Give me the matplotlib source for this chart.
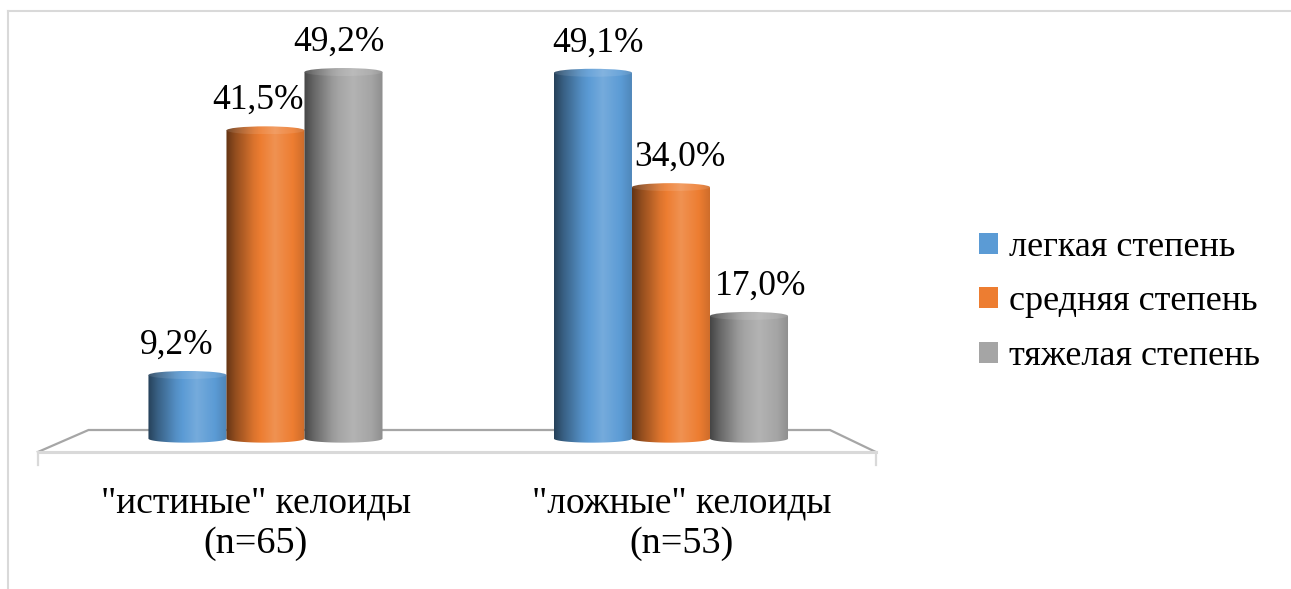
import numpy as np
import matplotlib
matplotlib.use("Agg")
import matplotlib.pyplot as plt
from matplotlib.patches import Polygon, Ellipse, Patch
from matplotlib.lines import Line2D
from matplotlib.colors import to_rgb

plt.rcParams["font.family"] = ["Liberation Serif", "DejaVu Serif"]

# data
categories = [('"истиные" келоиды', "(n=65)"), ('"ложные" келоиды', "(n=53)")]
series_names = ["легкая степень", "средняя степень", "тяжелая степень"]
series_colors = ["#5B9BD5", "#ED7D31", "#A5A5A5"]
values = [
    [9.2, 49.1],   # легкая
    [41.5, 34.0],  # средняя
    [49.2, 17.0],  # тяжелая
]
value_labels = [
    ["9,2%", "49,1%"],
    ["41,5%", "34,0%"],
    ["49,2%", "17,0%"],
]

# layout (data units: x = group index, y = percent)
BAR_W = 0.1924
RY = 0.53          # vertical radius of cylinder ellipses
BASE_Y = 0.8       # centre of the bottom ellipse
FLOOR_BACK_Y, FLOOR_FRONT_Y, FLOOR_TICK_Y = 1.94, -0.96, -2.68
FLOOR_BACK_X = (-0.4365, 1.392)
FLOOR_FRONT_X = (-0.5611, 1.505)
PERSP = 1.04


def shade(color, t):
    # brightness profile across a cylinder, t from 0 (left) to 1 (right)
    stops_t = [0.0, 0.12, 0.35, 0.62, 0.85, 1.0]
    stops_f = [0.42, 0.62, 0.92, 1.16, 1.0, 0.86]
    f = np.interp(t, stops_t, stops_f)[:, None]
    c = np.array(to_rgb(color))[None, :]
    dark = c * f
    light = c + (1 - c) * (f - 1)
    return np.clip(np.where(f < 1, dark, light), 0, 1)


def cylinder(ax, xc, h, color, z):
    a = BAR_W / 2
    x0, x1 = xc - a, xc + a
    th = np.linspace(np.pi, 2 * np.pi, 60)
    pts = np.column_stack([xc + a * np.cos(th), BASE_Y + RY * np.sin(th)])
    pts = np.vstack([pts, [x1, h], [x0, h]])
    body = Polygon(pts, closed=True, facecolor="none", edgecolor="none")
    ax.add_patch(body)
    grad = shade(color, np.linspace(0, 1, 200))[None, :, :]
    im = ax.imshow(grad, extent=[x0, x1, BASE_Y - RY, h], aspect="auto",
                   interpolation="bilinear", zorder=z)
    im.set_clip_path(body)
    top = Ellipse((xc, h), BAR_W, 2 * RY, facecolor="none", edgecolor="none")
    ax.add_patch(top)
    top_grad = np.clip(grad * 0.9 + 0.1, 0, 1)
    im2 = ax.imshow(top_grad, extent=[x0, x1, h - RY, h + RY], aspect="auto",
                    interpolation="bilinear", zorder=z + 0.5)
    im2.set_clip_path(top)


fig = plt.figure(figsize=(12.91, 5.89), dpi=100)
ax = fig.add_axes([0, 0, 1, 1])
ax.set_axis_off()

# floor
floor_cx = (FLOOR_FRONT_X[0] + FLOOR_FRONT_X[1]) / 2
ax.plot([FLOOR_FRONT_X[0], FLOOR_BACK_X[0], FLOOR_BACK_X[1], FLOOR_FRONT_X[1]],
        [FLOOR_FRONT_Y, FLOOR_BACK_Y, FLOOR_BACK_Y, FLOOR_FRONT_Y],
        color="#a6a6a6", lw=1.6, zorder=1, solid_joinstyle="miter")
ax.plot(FLOOR_FRONT_X, [FLOOR_FRONT_Y, FLOOR_FRONT_Y], color="#d9d9d9", lw=2.2, zorder=1)
for fx in FLOOR_FRONT_X:
    ax.plot([fx, fx], [FLOOR_FRONT_Y, FLOOR_TICK_Y], color="#d9d9d9", lw=1.6, zorder=1)

# bars and value labels
n_series = len(series_names)
for g in range(len(categories)):
    for s in range(n_series):
        xc = g + (s - (n_series - 1) / 2) * BAR_W
        v = values[s][g]
        cylinder(ax, xc, v, series_colors[s], 2 + s)
        lx = floor_cx + (xc - floor_cx) * PERSP
        ax.text(lx, v + 2.8, value_labels[s][g], ha="center", va="baseline",
                fontsize=25.5, color="black", zorder=10)

# category labels
for g, (line1, line2) in enumerate(categories):
    lx = floor_cx + (g - floor_cx) * 1.05
    ax.text(lx, -8.9, line1, ha="center", va="baseline", fontsize=27)
    ax.text(lx, -14.3, line2, ha="center", va="baseline", fontsize=27.5)

ax.set_xlim(-0.6547, 2.529)
ax.set_ylim(-19.05, 58.71)

# legend
handles = [Patch(facecolor=c, edgecolor="none") for c in series_colors]
fig.legend(handles, series_names, loc="center left",
           bbox_to_anchor=(979 / 1291, 1 - 302 / 589), frameon=False,
           fontsize=26, handlelength=0.52, handleheight=0.52,
           handletextpad=0.3, labelspacing=0.6, borderpad=0, borderaxespad=0)

# chart frame (partially cropped)
fig.add_artist(Line2D([8 / 1291, 1], [1 - 11 / 589, 1 - 11 / 589],
                      transform=fig.transFigure, color="#d9d9d9", lw=1.5))
fig.add_artist(Line2D([8 / 1291, 8 / 1291], [0, 1 - 11 / 589],
                      transform=fig.transFigure, color="#d9d9d9", lw=1.5))

fig.savefig("out.png", dpi=100)
